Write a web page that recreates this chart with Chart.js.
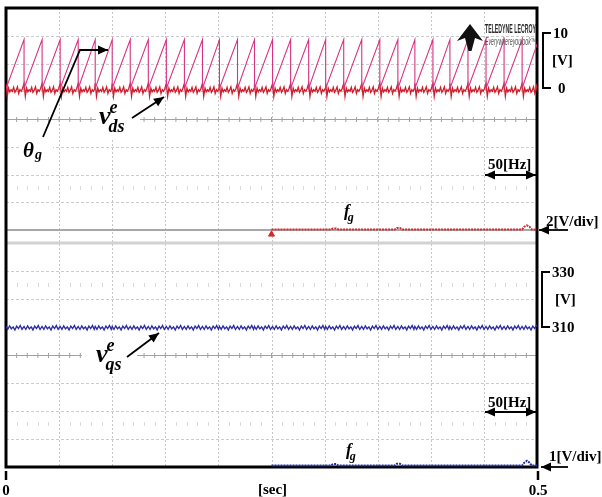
<!DOCTYPE html>
<html>
<head>
<meta charset="utf-8">
<script src="https://cdn.jsdelivr.net/npm/chart.js@4.4.0/dist/chart.umd.min.js"></script>
<style>
  html, body { margin: 0; padding: 0; background: #fff; }
  #wrap { width: 602px; height: 497px; }
</style>
</head>
<body>
<div id="wrap"><canvas id="scope" width="602" height="497"></canvas></div>
<script>
// time axis [sec]
const xTicks = [0, 0.5];
const xTickLabels = ['0', '0.5'];
const xUnit = '[sec]';

// theta_g sawtooth: instants where it drops back to 0 [sec]
const thetaResets = [0.017, 0.034, 0.051, 0.068, 0.084, 0.100, 0.117, 0.134, 0.151, 0.168,
                     0.185, 0.201, 0.218, 0.234, 0.251, 0.268, 0.285, 0.301, 0.318, 0.335,
                     0.352, 0.369, 0.385, 0.402, 0.418, 0.435, 0.452, 0.469, 0.486];
const thetaPeak = 8.8;  // [V]
const thetaEnd = 8.0;   // value at the right edge

// ripple of v_ds^e over one theta cycle [V]
const vdsCycle = [0.9, -1.4, 0.1, -0.6, -0.2, -0.5, 0.2, -0.7, -0.3, 0.3, -0.9, -0.2, -0.5, 0.0];
// ripple of v_qs^e over one theta cycle [V]
const vqsCycle = [310.4, 309.3, 310.6, 309.5, 310.2, 309.1, 310.5, 309.6, 310.7, 309.3];

// f_g traces, shown after the step at 0.25 s
const fgTimes  = [0.25, 0.306, 0.308, 0.311, 0.313, 0.366, 0.368, 0.371, 0.373, 0.486, 0.488, 0.4905, 0.493, 0.495, 0.5];
const fgTop    = [0, 0, 0.07, 0.07, 0, 0, 0.11, 0.11, 0, 0, 0.2, 0.3, 0.2, 0, 0];     // 2 V/div
const fgBottom = [0, 0, 0.05, 0.05, 0, 0, 0.06, 0.06, 0, 0, 0.1, 0.17, 0.1, 0, 0];    // 1 V/div

// right side scale texts
const topScale = ['10', '[V]', '0'];
const bottomScale = ['330', '[V]', '310'];
const divLabels = ['2[V/div]', '1[V/div]'];
const hzLabel = '50[Hz]';

// ---- layout ----
const AREA = { left: 6, top: 8, right: 537, bottom: 467 };
const SERIF_B = 'bold 15px "Liberation Serif", "Times New Roman", serif';

function yRange(v0, y0, v1, y1) {
  const k = (v1 - v0) / (y0 - y1);
  return { min: v0 - (AREA.bottom - y0) * k, max: v0 + (y0 - AREA.top) * k };
}

const thetaAxis = yRange(0, 88.5, 10, 33);
const vqsAxis = yRange(310, 327.5, 330, 271);
const fgTopAxis = yRange(0, 229.5, 2, 201.75);
const fgBotAxis = yRange(0, 465.5, 1, 437.5);

// build series from the arrays above
const cycleStep = (thetaResets[thetaResets.length - 1] - thetaResets[0]) / (thetaResets.length - 1);
const bounds = [0, ...thetaResets, 0.5];

function tile(cycle) {
  const pts = [];
  const step = cycleStep / cycle.length;
  for (let i = 0; i < bounds.length - 1; i++) {
    cycle.forEach((v, j) => {
      const t = bounds[i] + j * step;
      if (t < bounds[i + 1]) pts.push({ x: t, y: v });
    });
  }
  pts.push({ x: 0.5, y: cycle[0] });
  return pts;
}

const thetaData = [{ x: 0, y: 0 }];
thetaResets.forEach(t => { thetaData.push({ x: t, y: thetaPeak }, { x: t, y: 0 }); });
thetaData.push({ x: 0.5, y: thetaEnd });

const fgTopData = fgTimes.map((t, i) => ({ x: t, y: fgTop[i] }));
const fgBotData = fgTimes.map((t, i) => ({ x: t, y: fgBottom[i] }));

// ---- drawing helpers ----
function seg(ctx, x1, y1, x2, y2) {
  ctx.beginPath(); ctx.moveTo(x1, y1); ctx.lineTo(x2, y2); ctx.stroke();
}

function arrow(ctx, pts, both) {
  ctx.save();
  ctx.strokeStyle = '#000'; ctx.fillStyle = '#000'; ctx.lineWidth = 1.8;
  ctx.beginPath();
  pts.forEach((p, i) => i ? ctx.lineTo(p[0], p[1]) : ctx.moveTo(p[0], p[1]));
  ctx.stroke();
  const head = (a, b) => {
    const ang = Math.atan2(b[1] - a[1], b[0] - a[0]);
    ctx.beginPath();
    ctx.moveTo(b[0], b[1]);
    ctx.lineTo(b[0] - 10 * Math.cos(ang) + 4.5 * Math.sin(ang), b[1] - 10 * Math.sin(ang) - 4.5 * Math.cos(ang));
    ctx.lineTo(b[0] - 10 * Math.cos(ang) - 4.5 * Math.sin(ang), b[1] - 10 * Math.sin(ang) + 4.5 * Math.cos(ang));
    ctx.closePath(); ctx.fill();
  };
  head(pts[pts.length - 2], pts[pts.length - 1]);
  if (both) head(pts[1], pts[0]);
  ctx.restore();
}

function txt(ctx, s, x, y, font, align) {
  ctx.font = font; ctx.textAlign = align || 'left'; ctx.fillText(s, x, y);
}

// sub/superscript label like v^e_ds
function symbol(ctx, base, sup, sub, x, y, size) {
  ctx.fillStyle = '#000';
  txt(ctx, base, x, y, 'bold italic ' + size + 'px "Liberation Serif", serif');
  const w = ctx.measureText(base).width;
  const small = 'bold italic ' + Math.round(size * 0.68) + 'px "Liberation Serif", serif';
  if (sup) txt(ctx, sup, x + w - 1, y - size * 0.42, small);
  if (sub) txt(ctx, sub, x + w - 2, y + size * 0.3, small);
}

const scopeDecor = {
  id: 'scopeDecor',
  beforeDatasetsDraw(chart) {
    const { ctx, scales } = chart;
    const xs = scales.x;
    const L = AREA.left, R = AREA.right;
    const minor = (R - L) / 50;
    ctx.save();

    // vertical divisions
    ctx.strokeStyle = '#c6c6c6'; ctx.lineWidth = 1; ctx.setLineDash([2, 2]);
    for (let k = 1; k < 10; k++) {
      const px = Math.round(xs.getPixelForValue(k * 0.05)) + 0.5;
      seg(ctx, px, AREA.top, px, AREA.bottom);
    }

    // horizontal rows of both screens
    const panels = [{ top: 8, div: 27.75 }, { top: 243, div: 28 }];
    panels.forEach(p => {
      for (let k = 1; k < 8; k++) {
        const y = Math.round(p.top + k * p.div) + 0.5;
        if (k === 4) {
          ctx.setLineDash([]); ctx.strokeStyle = '#a2a2a2'; ctx.lineWidth = 1;
          seg(ctx, L, y, R, y);
          for (let m = 1; m < 50; m++) seg(ctx, L + m * minor, y - 2.5, L + m * minor, y + 2.5);
        } else {
          ctx.setLineDash([3, 2]); ctx.strokeStyle = '#cbcbcb'; ctx.lineWidth = 1;
          seg(ctx, L, y, R, y);
        }
      }
    });

    // faint tick rows
    ctx.setLineDash([]); ctx.strokeStyle = '#dadada'; ctx.lineWidth = 1;
    [188, 285, 424].forEach(y => {
      for (let m = 1; m < 50; m++) {
        if (m % 5 === 0) continue;
        const px = Math.round(L + m * minor) + 0.5;
        seg(ctx, px, y - 2, px, y + 2);
      }
    });

    // screen separators
    ctx.strokeStyle = '#a8a8a8'; ctx.lineWidth = 2;
    seg(ctx, L, 230, R, 230);
    ctx.strokeStyle = '#d2d2d2'; ctx.lineWidth = 3;
    seg(ctx, L, 243, R, 243);

    // frame
    ctx.strokeStyle = '#000'; ctx.lineWidth = 3;
    ctx.strokeRect(L, AREA.top, R - L, AREA.bottom - AREA.top);

    // white patches behind the trace labels
    ctx.fillStyle = '#fff';
    ctx.fillRect(20, 136, 33, 32);
    ctx.fillRect(96, 100, 44, 38);
    ctx.fillRect(82, 338, 55, 38);
    ctx.restore();
  },
  afterDraw(chart) {
    const { ctx, scales } = chart;
    const xs = scales.x;
    ctx.save();
    ctx.fillStyle = '#000'; ctx.textBaseline = 'alphabetic';

    // trace names
    symbol(ctx, '\u03B8', '', '', 23, 157, 21);
    txt(ctx, 'g', 35, 159, 'bold italic 14px "Liberation Serif", serif');
    symbol(ctx, 'v', 'e', 'ds', 99, 124, 26);
    symbol(ctx, 'v', 'e', 'qs', 96, 362, 26);
    symbol(ctx, 'f', '', 'g', 344, 216, 17);
    symbol(ctx, 'f', '', 'g', 346, 455, 17);

    arrow(ctx, [[43, 137], [80, 50], [108, 50]]);
    arrow(ctx, [[132, 118], [164, 97]]);
    arrow(ctx, [[127, 357], [159, 333]]);

    // right scale brackets
    ctx.strokeStyle = '#000'; ctx.lineWidth = 2;
    [[543, 33, 88, topScale, [553, 552, 558], [38, 65, 93]],
     [542, 272, 327, bottomScale, [552, 555, 552], [277, 304, 332]]].forEach(b => {
      const [bx, y1, y2, labels, lx, ly] = b;
      ctx.beginPath();
      ctx.moveTo(bx + 8, y1); ctx.lineTo(bx, y1); ctx.lineTo(bx, y2); ctx.lineTo(bx + 8, y2);
      ctx.stroke();
      labels.forEach((s, i) => txt(ctx, s, lx[i], ly[i], SERIF_B));
    });

    // V/div markers
    txt(ctx, divLabels[0], 546, 226, SERIF_B);
    arrow(ctx, [[568, 230], [539, 230]]);
    txt(ctx, divLabels[1], 549, 461, SERIF_B);
    arrow(ctx, [[568, 467], [541, 467]]);

    // 50 Hz spans
    txt(ctx, hzLabel, 488, 169, SERIF_B);
    arrow(ctx, [[485, 175], [536, 175]], true);
    txt(ctx, hzLabel, 488, 407, SERIF_B);
    arrow(ctx, [[485, 412], [536, 412]], true);

    // time axis
    ctx.lineWidth = 2.5;
    xTicks.forEach((t, i) => {
      const px = xs.getPixelForValue(t) + (i ? 1 : 0);
      seg(ctx, px, 471, px, 480);
      txt(ctx, xTickLabels[i], px, 495, SERIF_B, 'center');
    });
    txt(ctx, xUnit, xs.getPixelForValue(0.25) + 1, 494, SERIF_B, 'center');

    // scope logo
    ctx.fillStyle = '#111';
    ctx.beginPath();
    ctx.moveTo(457, 41); ctx.lineTo(470, 24); ctx.lineTo(483, 41); ctx.lineTo(475, 38);
    ctx.lineTo(471.5, 51); ctx.lineTo(468.5, 51); ctx.lineTo(465, 38); ctx.closePath();
    ctx.fill();
    ctx.fillStyle = '#2a2a2a';
    ctx.font = 'bold 12px "Liberation Sans Narrow", "Liberation Sans", sans-serif';
    ctx.textAlign = 'left';
    ctx.fillText('TELEDYNE LECROY', 485, 33, 51);
    ctx.fillStyle = '#555';
    ctx.font = 'italic 10px "Liberation Sans", sans-serif';
    ctx.fillText('Everywhereyoulook\u2122', 485, 45, 51);
    ctx.restore();
  }
};

const chart = new Chart(document.getElementById('scope'), {
  type: 'line',
  data: {
    datasets: [
      { label: 'theta_g', data: thetaData, yAxisID: 'yTheta', borderColor: '#d63381', borderWidth: 1.1 },
      { label: 'v_ds^e', data: tile(vdsCycle), yAxisID: 'yTheta', borderColor: '#cc1f2c', borderWidth: 1.3 },
      { label: 'f_g (top)', data: fgTopData, yAxisID: 'yFgTop', borderColor: '#d42a2a', borderWidth: 2, borderDash: [2, 1] },
      { label: 'marker', data: [{ x: fgTimes[0], y: -0.35 }], yAxisID: 'yFgTop', showLine: false,
        pointStyle: 'triangle', pointRadius: 3.5, backgroundColor: '#d42a2a', borderColor: '#d42a2a' },
      { label: 'v_qs^e', data: tile(vqsCycle), yAxisID: 'yVqs', borderColor: '#2b2ba3', borderWidth: 1.3 },
      { label: 'f_g (bottom)', data: fgBotData, yAxisID: 'yFgBot', borderColor: '#22309c', borderWidth: 2, borderDash: [2, 1] }
    ]
  },
  options: {
    responsive: false,
    animation: false,
    devicePixelRatio: 1,
    layout: { padding: { left: AREA.left, top: AREA.top, right: 602 - AREA.right, bottom: 497 - AREA.bottom } },
    elements: { point: { radius: 0 }, line: { tension: 0 } },
    plugins: { legend: { display: false }, tooltip: { enabled: false } },
    scales: {
      x: { type: 'linear', min: 0, max: 0.5, display: false },
      yTheta: { type: 'linear', min: thetaAxis.min, max: thetaAxis.max, display: false },
      yFgTop: { type: 'linear', min: fgTopAxis.min, max: fgTopAxis.max, display: false },
      yVqs: { type: 'linear', min: vqsAxis.min, max: vqsAxis.max, display: false },
      yFgBot: { type: 'linear', min: fgBotAxis.min, max: fgBotAxis.max, display: false }
    }
  },
  plugins: [scopeDecor]
});
</script>
</body>
</html>
